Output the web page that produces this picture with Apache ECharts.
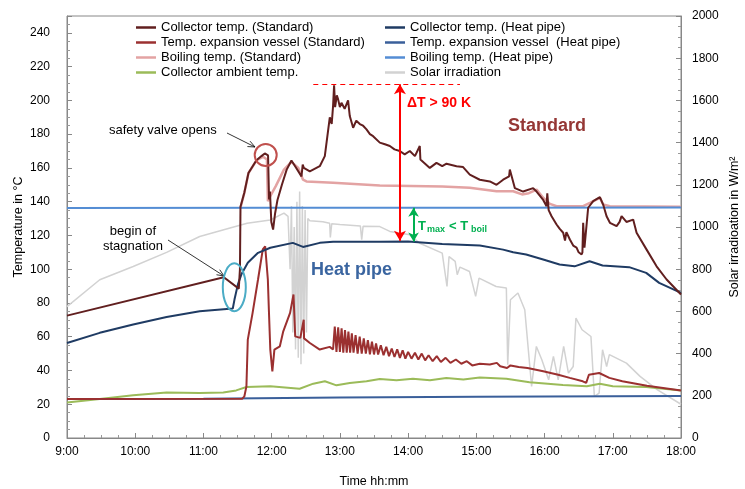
<!DOCTYPE html>
<html>
<head>
<meta charset="utf-8">
<script src="https://cdn.jsdelivr.net/npm/echarts@6/dist/echarts.min.js"></script>
<style>
  html, body { margin: 0; padding: 0; background: #fff; }
  #stagnation { width: 745px; height: 489px; }
</style>
</head>
<body>
<div id="stagnation"></div>
<script>
// time in decimal hours, temperatures in °C, irradiation in W/m²
const hourTicks = ['9:00', '10:00', '11:00', '12:00', '13:00', '14:00', '15:00', '16:00', '17:00', '18:00'];

const colStdT = [9.0, 11.298, 11.518, 11.535, 11.543, 11.6, 11.66, 11.777, 11.85, 11.899, 11.947, 11.962, 11.975, 11.995, 12.021, 12.05, 12.085, 12.15, 12.22, 12.29, 12.36, 12.437, 12.455, 12.471, 12.559, 12.705, 12.779, 12.852, 12.88, 12.9, 12.915, 12.93, 12.955, 12.974, 13.0, 13.023, 13.07, 13.12, 13.145, 13.194, 13.24, 13.292, 13.34, 13.39, 13.44, 13.487, 13.585, 13.66, 13.732, 13.8, 13.878, 13.95, 14.025, 14.1, 14.171, 14.18, 14.318, 14.416, 14.5, 14.563, 14.71, 14.806, 14.904, 15.051, 15.198, 15.296, 15.393, 15.48, 15.491, 15.565, 15.686, 15.833, 15.883, 15.98, 16.029, 16.04, 16.06, 16.103, 16.176, 16.22, 16.273, 16.3, 16.32, 16.371, 16.42, 16.469, 16.5, 16.543, 16.555, 16.566, 16.585, 16.639, 16.713, 16.811, 16.859, 16.909, 16.958, 17.056, 17.1, 17.129, 17.2, 17.299, 17.349, 17.496, 17.642, 17.789, 18.0];
const colStdV = [72.5, 95.2, 88.5, 100, 137, 145.5, 157, 164.5, 167, 168.6, 167.4, 141.3, 146, 128, 123.5, 133, 141, 150, 159, 164.4, 160, 155, 162, 160, 158, 161, 167, 190, 186, 196.6, 209, 196, 203, 200.6, 196, 198.6, 195, 200, 190.7, 183.8, 188, 186, 185, 182.8, 180, 178.8, 175, 174, 173, 171, 170, 168, 170, 167, 173, 165, 160, 163, 161, 162.5, 161, 160.5, 156, 153, 152, 150, 153, 155, 159, 148, 146, 148, 146, 141, 137.3, 145, 135, 131.4, 126.5, 124, 121.6, 117, 122, 117.6, 114, 112.8, 110, 108.7, 110, 127.5, 112.7, 136.4, 140.3, 142.7, 138.3, 131.4, 127.5, 125.5, 128, 131.4, 128, 129.4, 121.6, 111.6, 101.7, 93.9, 85];

const expStdT = [9.0, 11.57, 11.6, 11.63, 11.65, 11.72, 11.8, 11.87, 11.905, 11.944, 11.959, 11.98, 12.01, 12.04, 12.12, 12.17, 12.27, 12.32, 12.345, 12.42, 12.47, 12.475, 12.56, 12.705, 12.85, 12.9, 12.925, 12.95, 12.975, 13.0, 13.025, 13.05, 13.075, 13.1, 13.125, 13.15, 13.175, 13.2, 13.23, 13.26, 13.29, 13.32, 13.35, 13.38, 13.41, 13.44, 13.47, 13.5, 13.53, 13.56, 13.6, 13.64, 13.68, 13.72, 13.76, 13.8, 13.84, 13.88, 13.92, 13.96, 14.0, 14.05, 14.1, 14.15, 14.2, 14.25, 14.3, 14.36, 14.42, 14.48, 14.55, 14.62, 14.7, 14.78, 14.86, 14.94, 15.05, 15.198, 15.3, 15.35, 15.45, 15.5, 15.62, 15.75, 15.98, 16.2, 16.37, 16.56, 16.61, 16.65, 16.8, 16.95, 17.14, 17.5, 18.0];
const expStdV = [23.1, 23.3, 24.7, 30.6, 58.3, 74, 93.9, 111.7, 113.6, 93.9, 76, 52.4, 39.5, 52.4, 54.3, 63.2, 74.1, 85, 60.2, 59.3, 70.1, 59, 56.3, 52.4, 54, 52.4, 66, 51, 65.5, 51, 65, 50.5, 64, 50.5, 63, 50.5, 62, 50.5, 61, 50, 60, 50, 59, 50, 58, 49.5, 57, 49.5, 56, 49.5, 55, 49, 54, 48.5, 53, 48, 52.5, 47.5, 52, 47, 51, 47, 50.5, 46.5, 50, 46, 49, 45.5, 48.5, 45, 47.5, 44.5, 46.5, 44, 45.5, 43, 44, 43.5, 44.5, 42.5, 41.5, 43, 42, 41.5, 39.5, 37.5, 35.6, 33.6, 32.6, 37.5, 38.5, 35.6, 33.6, 31, 28.2];

const boilStdT = [11.543, 11.6, 11.66, 11.777, 11.875, 11.93, 11.945, 11.98, 12.06, 12.18, 12.29, 12.39, 12.46, 12.51, 12.9, 13.585, 14.5, 14.904, 15.296, 15.54, 15.67, 15.77, 15.883, 15.98, 16.08, 16.176, 16.566, 16.665, 16.811, 16.859, 16.958, 18.0];
const boilStdV = [136.5, 145.3, 157, 164.4, 166.6, 165, 140.3, 143.3, 149.2, 159, 163.6, 160, 153, 152, 151.2, 149.6, 149, 148.2, 146.2, 146.2, 144.3, 145, 147.2, 142.3, 138.7, 137.3, 137.3, 139.3, 142.3, 138.3, 137.3, 137];

const ambT = [9.0, 9.48, 9.97, 10.46, 10.945, 11.29, 11.48, 11.63, 11.98, 12.41, 12.61, 12.78, 12.95, 13.145, 13.39, 13.585, 13.83, 14.07, 14.32, 14.56, 14.81, 15.05, 15.44, 15.78, 16.27, 16.62, 16.81, 17.0, 17.49, 18.0];
const ambV = [21.1, 23.1, 25.3, 27, 26.7, 27, 28.2, 30.2, 30.6, 29.2, 32.2, 33.6, 31.2, 32.6, 33.6, 35, 34.2, 35.1, 34.2, 35.6, 34.6, 35.9, 35.1, 33, 31.4, 30.6, 32.2, 30.6, 30.2, 28.2];

const colHpT = [9.0, 9.48, 9.97, 10.46, 10.945, 11.43, 11.455, 11.505, 11.555, 11.65, 11.8, 11.98, 12.31, 12.46, 12.705, 12.9, 13.585, 14.0, 14.5, 15.051, 15.393, 15.54, 15.73, 15.98, 16.22, 16.44, 16.66, 16.85, 17.24, 17.49, 17.68, 18.0];
const colHpV = [56.3, 62.3, 67.2, 71.7, 75.1, 76.7, 82, 91, 96.8, 103.8, 109.7, 112.7, 115.6, 113.2, 115.6, 116.2, 116.2, 116.4, 115, 114, 111.6, 110, 108.7, 105.7, 102.8, 101.7, 104.7, 102.2, 101.2, 97.8, 91.9, 86];

const expHpT = [9.0, 11.0, 13.0, 15.0, 18.0];
const expHpV = [23.1, 23.3, 24.0, 24.4, 24.9];

const boilHpT = [9.0, 12.0, 15.0, 18.0];
const boilHpV = [136.3, 136.4, 136.4, 136.5];

const solarT = [9.0, 9.48, 9.97, 10.46, 10.945, 11.298, 11.64, 11.98, 12.18, 12.24, 12.27, 12.29, 12.31, 12.33, 12.35, 12.37, 12.39, 12.41, 12.43, 12.45, 12.47, 12.49, 12.51, 12.53, 12.56, 12.75, 12.85, 12.86, 12.88, 13.0, 13.3, 13.32, 13.34, 13.585, 13.732, 14.025, 14.171, 14.5, 14.57, 14.6, 14.69, 14.72, 14.76, 14.9, 14.99, 15.04, 15.29, 15.44, 15.46, 15.5, 15.61, 15.71, 15.81, 15.88, 15.96, 16.06, 16.13, 16.2, 16.28, 16.35, 16.42, 16.46, 16.55, 16.68, 16.73, 16.8, 16.85, 16.91, 16.95, 17.2, 17.4, 17.65, 18.0];
const solarV = [623, 750, 813, 880, 955, 987, 1018, 1033, 1066, 1050, 800, 1100, 500, 1000, 420, 1120, 380, 1168, 350, 1100, 400, 1080, 500, 1040, 1030, 1025, 1018, 950, 1015, 1012, 1005, 940, 1003, 1002, 979, 963, 923, 876, 718, 860, 837, 774, 810, 789, 671, 758, 718, 711, 347, 655, 687, 608, 244, 434, 371, 276, 387, 276, 434, 308, 339, 568, 513, 481, 197, 213, 418, 339, 395, 355, 292, 229, 160];

const pts = (t, v) => t.map((x, i) => [x, v[i]]);

const chart = echarts.init(document.getElementById('stagnation'));

const txt = (x, y, text, font, fill, align) => ({
  type: 'text', x, y, z: 100,
  style: { text, font, fill, align: align || 'left', verticalAlign: 'middle' }
});
const arrowLine = (x1, y1, x2, y2) => {
  const len = Math.hypot(x2 - x1, y2 - y1);
  const ux = (x2 - x1) / len, uy = (y2 - y1) / len;
  const bx = x2 - ux * 7, by = y2 - uy * 7;
  return [
    { type: 'line', z: 100, shape: { x1, y1, x2, y2 }, style: { stroke: '#000', lineWidth: 0.8 } },
    { type: 'polyline', z: 100, shape: { points: [[bx - uy * 3, by + ux * 3], [x2, y2], [bx + uy * 3, by - ux * 3]] }, style: { stroke: '#000', lineWidth: 0.8, fill: null } }
  ];
};

const line = (name, data, color, width, yAxisIndex) => ({
  name, type: 'line', data, yAxisIndex: yAxisIndex || 0,
  symbol: 'none', smooth: false,
  lineStyle: { color, width }, itemStyle: { color }
});

const tickCfg = { inside: true, length: 5, lineStyle: { color: '#888' } };
const minorCfg = { show: true, splitNumber: 4, length: 3, lineStyle: { color: '#999' } };

const colStd = line('Collector temp. (Standard)', pts(colStdT, colStdV), '#611f1f', 2);
colStd.markLine = {
  silent: true, symbol: ['arrow', 'arrow'], symbolSize: [9, 10],
  label: { show: false },
  lineStyle: { color: '#ff0000', width: 2, type: 'solid' },
  data: [[{ coord: [13.88, 209.5] }, { coord: [13.88, 116.8] }]]
};
const boilStd = line('Boiling temp. (Standard)', pts(boilStdT, boilStdV), '#e3a3a3', 2.5);
boilStd.markLine = {
  silent: true, symbol: ['none', 'none'],
  label: { show: false },
  lineStyle: { color: '#ff0000', width: 1.2, type: [5, 4] },
  data: [[{ coord: [12.61, 209.5] }, { coord: [14.76, 209.5] }]]
};
const colHp = line('Collector temp. (Heat pipe)', pts(colHpT, colHpV), '#1f3b63', 2);
colHp.markLine = {
  silent: true, symbol: ['arrow', 'arrow'], symbolSize: [8, 9],
  label: { show: false },
  lineStyle: { color: '#00b050', width: 2, type: 'solid' },
  data: [[{ coord: [14.08, 136.4] }, { coord: [14.08, 116.4] }]]
};

const legendBase = {
  orient: 'vertical', top: 21, padding: 0, itemGap: 2, itemWidth: 20, itemHeight: 2.5,
  icon: 'rect', textStyle: { fontSize: 13, color: '#000' }
};

chart.setOption({
  animation: false,
  textStyle: { fontFamily: 'Liberation Sans, Arial, sans-serif' },
  grid: { left: 67, right: 64, top: 16, bottom: 51, show: true, borderColor: '#888', borderWidth: 1, outerBoundsMode: 'none' },
  legend: [
    Object.assign({}, legendBase, {
      left: 136,
      data: ['Collector temp. (Standard)', 'Temp. expansion vessel (Standard)', 'Boiling temp. (Standard)', 'Collector ambient temp.']
    }),
    Object.assign({}, legendBase, {
      left: 385,
      data: ['Collector temp. (Heat pipe)', 'Temp. expansion vessel  (Heat pipe)', 'Boiling temp. (Heat pipe)', 'Solar irradiation']
    })
  ],
  xAxis: {
    type: 'value', min: 9, max: 18, interval: 1,
    name: 'Time hh:mm', nameLocation: 'middle', nameGap: 37,
    nameTextStyle: { fontSize: 12.5, color: '#000' },
    axisLine: { show: true, lineStyle: { color: '#888' } },
    axisTick: tickCfg, minorTick: minorCfg,
    axisLabel: { color: '#000', fontSize: 12, margin: 8, formatter: (v) => hourTicks[Math.round(v - 9)] },
    splitLine: { show: false }
  },
  yAxis: [
    {
      type: 'value', min: 0, max: 250, interval: 20,
      name: 'Temperature in °C', nameLocation: 'middle', nameGap: 42, nameMoveOverlap: false,
      nameTextStyle: { fontSize: 12.5, color: '#000' },
      axisLine: { show: true, lineStyle: { color: '#888' } },
      axisTick: tickCfg, minorTick: minorCfg,
      axisLabel: { color: '#000', fontSize: 12, margin: 17, showMaxLabel: false },
      splitLine: { show: false }
    },
    {
      type: 'value', min: 0, max: 2000, interval: 200,
      name: 'Solar irradioation in W/m²', nameLocation: 'middle', nameGap: 47, nameMoveOverlap: false,
      nameTextStyle: { fontSize: 12.5, color: '#000' },
      axisLine: { show: true, lineStyle: { color: '#888' } },
      axisTick: tickCfg, minorTick: minorCfg,
      axisLabel: { color: '#000', fontSize: 12, margin: 11, formatter: (v) => String(v) },
      splitLine: { show: false }
    }
  ],
  series: [
    line('Solar irradiation', pts(solarT, solarV), '#d2d2d2', 1.5, 1),
    line('Collector ambient temp.', pts(ambT, ambV), '#9bbb59', 2),
    line('Temp. expansion vessel  (Heat pipe)', pts(expHpT, expHpV), '#3a5f9a', 2),
    line('Temp. expansion vessel (Standard)', pts(expStdT, expStdV), '#9b3030', 2),
    colHp,
    boilStd,
    line('Boiling temp. (Heat pipe)', pts(boilHpT, boilHpV), '#548dd4', 2),
    colStd
  ],
  graphic: [
    txt(109, 130, 'safety valve opens', '13px Liberation Sans', '#000'),
    ...arrowLine(227, 133, 255, 147),
    { type: 'circle', z: 100, shape: { cx: 265.7, cy: 155, r: 11 }, style: { stroke: '#c0504d', lineWidth: 2, fill: null } },
    txt(133, 231, 'begin of', '13px Liberation Sans', '#000', 'center'),
    txt(133, 246.5, 'stagnation', '13px Liberation Sans', '#000', 'center'),
    ...arrowLine(168, 240, 224, 276),
    { type: 'ellipse', z: 100, shape: { cx: 234.3, cy: 287.3, rx: 11.5, ry: 24 }, style: { stroke: '#4bacc6', lineWidth: 2, fill: null } },
    txt(407, 103, 'ΔT > 90 K', 'bold 14px Liberation Sans', '#ff0000'),
    txt(508, 126, 'Standard', 'bold 18px Liberation Sans', '#953735'),
    txt(311, 270, 'Heat pipe', 'bold 18px Liberation Sans', '#3a65a0'),
    txt(418, 226, 'T', 'bold 13px Liberation Sans', '#00b050'),
    txt(427, 230, 'max', 'bold 9px Liberation Sans', '#00b050'),
    txt(449, 226, '< T', 'bold 13px Liberation Sans', '#00b050'),
    txt(471, 230, 'boil', 'bold 9px Liberation Sans', '#00b050')
  ]
});
</script>
</body>
</html>
